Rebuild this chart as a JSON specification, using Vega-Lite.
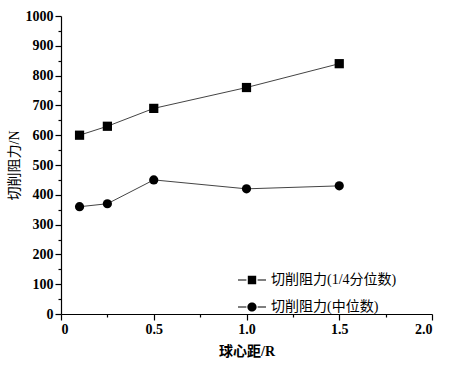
{
  "$schema": "https://vega.github.io/schema/vega-lite/v6.json",
  "width": 371,
  "height": 298,
  "autosize": "none",
  "padding": {"left": 61, "top": 16, "right": 22, "bottom": 51},
  "background": "white",
  "config": {
    "view": {"stroke": null},
    "font": "Liberation Serif, Noto Sans CJK SC",
    "axis": {
      "grid": false,
      "domainColor": "black",
      "tickColor": "black",
      "labelColor": "black",
      "titleColor": "black",
      "domainWidth": 1.2,
      "tickWidth": 1.2,
      "labelFont": "Liberation Serif",
      "labelFontSize": 14,
      "labelFontWeight": "bold",
      "titleFont": "Liberation Serif, Noto Sans CJK SC",
      "titleFontSize": 14,
      "titleFontWeight": "normal"
    }
  },
  "data": {
    "values": [
      {"x": 0.1, "y": 600, "series": "切削阻力(1/4分位数)"},
      {"x": 0.25, "y": 630, "series": "切削阻力(1/4分位数)"},
      {"x": 0.5, "y": 690, "series": "切削阻力(1/4分位数)"},
      {"x": 1.0, "y": 760, "series": "切削阻力(1/4分位数)"},
      {"x": 1.5, "y": 840, "series": "切削阻力(1/4分位数)"},
      {"x": 0.1, "y": 360, "series": "切削阻力(中位数)"},
      {"x": 0.25, "y": 370, "series": "切削阻力(中位数)"},
      {"x": 0.5, "y": 450, "series": "切削阻力(中位数)"},
      {"x": 1.0, "y": 420, "series": "切削阻力(中位数)"},
      {"x": 1.5, "y": 430, "series": "切削阻力(中位数)"}
    ]
  },
  "resolve": {"scale": {"shape": "independent"}},
  "encoding": {
    "x": {
      "field": "x", "type": "quantitative",
      "scale": {"domain": [0, 2], "nice": false, "zero": false},
      "axis": {
        "values": [0, 0.25, 0.5, 0.75, 1, 1.25, 1.5, 1.75, 2],
        "labelExpr": "datum.value == 0 ? '0' : ((datum.value * 4) % 2 === 0 ? format(datum.value, '.1f') : '')",
        "tickSize": {"condition": {"test": "(datum.value * 4) % 2 === 0", "value": 6}, "value": 3},
        "labelPadding": 2,
        "title": "球心距/R", "titleFontWeight": "bold", "titleFontSize": 14, "titlePadding": 8
      }
    },
    "y": {
      "field": "y", "type": "quantitative",
      "scale": {"domain": [0, 1000], "nice": false},
      "axis": {
        "values": [0, 50, 100, 150, 200, 250, 300, 350, 400, 450, 500, 550, 600, 650, 700, 750, 800, 850, 900, 950, 1000],
        "labelExpr": "datum.value % 100 === 0 ? format(datum.value, 'd') : ''",
        "tickSize": {"condition": {"test": "datum.value % 100 === 0", "value": 6}, "value": 3},
        "labelPadding": 2,
        "title": "切削阻力/N", "titlePadding": 4
      }
    }
  },
  "layer": [
    {
      "mark": {"type": "line", "color": "#444", "strokeWidth": 1},
      "encoding": {
        "detail": {"field": "series"}
      }
    },
    {
      "mark": {"type": "point", "filled": true, "color": "black", "opacity": 1},
      "encoding": {
        "shape": {
          "field": "series", "type": "nominal",
          "scale": {"domain": ["切削阻力(1/4分位数)", "切削阻力(中位数)"], "range": ["square", "circle"]},
          "legend": null
        },
        "size": {"value": 85}
      }
    },
    {
      "mark": {"type": "point", "filled": true, "color": "black", "opacity": 0},
      "encoding": {
        "shape": {
          "field": "series", "type": "nominal",
          "scale": {
            "domain": ["切削阻力(1/4分位数)", "切削阻力(中位数)"],
            "range": [
              "M-1,-0.04H-0.4V0.04H-1ZM0.4,-0.04H1V0.04H0.4ZM-0.3,-0.3H0.3V0.3H-0.3Z",
              "M-1,-0.04H-0.4V0.04H-1ZM0.4,-0.04H1V0.04H0.4ZM-0.33,0A0.33,0.33 0 1,0 0.33,0A0.33,0.33 0 1,0 -0.33,0Z"
            ]
          },
          "legend": {
            "title": null,
            "orient": "none",
            "legendX": 176,
            "legendY": 249,
            "symbolSize": 784,
            "symbolOpacity": 1,
            "symbolFillColor": "black",
            "labelFont": "Liberation Serif, Noto Sans CJK SC",
            "labelFontSize": 14,
            "labelColor": "black",
            "labelOffset": 4,
            "rowPadding": 4,
            "encode": {
              "symbols": {
                "update": {
                  "fill": {"value": "black"},
                  "opacity": {"value": 1}
                }
              }
            }
          }
        },
        "size": {"value": 784}
      }
    }
  ]
}
